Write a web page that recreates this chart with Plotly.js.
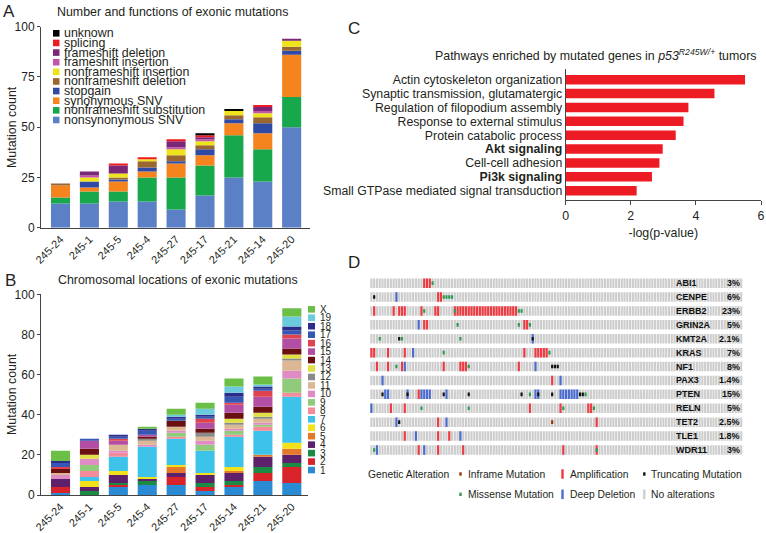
<!DOCTYPE html>
<html><head><meta charset="utf-8">
<script src="https://cdn.plot.ly/plotly-3.0.1.min.js"></script>
<style>html,body{margin:0;padding:0;background:#fff}#chart{width:766px;height:533px}</style>
</head><body><div id="chart"></div>
<script>
// ================= Panel A: functions of exonic mutations =================
const samplesA = ['245-24','245-1','245-5','245-4','245-27','245-17','245-21','245-14','245-20'];
const funcNames = ['nonsynonymous SNV','nonframeshift substitution','synonymous SNV','stopgain',
  'nonframeshift deletion','nonframeshift insertion','frameshift insertion','frameshift deletion','splicing','unknown'];
const nonsynonymousSNV        = [12,12,13,13, 9,16,25,23,50];
const nonframeshiftSubst      = [ 3, 6, 5,12,16,15,21,16,15];
const synonymousSNV           = [ 6, 2, 5, 3, 7, 5, 6, 8,21];
const stopgain                = [ 0, 3, 1, 2, 1, 3, 2, 5, 2];
const nonframeshiftDeletion   = [ 1, 0, 1, 3, 3, 2, 2, 3, 2];
const nonframeshiftInsertion  = [ 0, 2, 2, 1, 3, 2, 2, 2, 3];
const frameshiftInsertion     = [ 0, 1, 0, 0, 1, 1, 0, 1, 0];
const frameshiftDeletion      = [ 0, 2, 4, 0, 3, 1, 0, 2, 1];
const splicing                = [ 0, 0, 1, 1, 1, 1, 0, 1, 0];
const unknownFunc             = [ 0, 0, 0, 0, 0, 1, 1, 0, 0];

// ================= Panel B: chromosomal locations =================
const samplesB = ['245-24','245-1','245-5','245-4','245-27','245-17','245-14','245-21','245-20'];
const chromNames = ['1','2','3','4','5','6','7','8','9','10','11','12','13','14','15','16','17','18','19','X'];
const chr1  = [1,0,4,5,5,2,4,7,6];
const chr2  = [3,0,1,0,4,2,1,4,8];
const chr3  = [0,2,1,2,0,2,2,3,2];
const chr4  = [4,2,4,1,2,4,4,5,4];
const chr5  = [0,0,0,0,3,0,1,1,3];
const chr6  = [0,3,2,1,1,1,2,0,3];
const chr7  = [0,2,7,15,13,11,15,12,23];
const chr8  = [0,3,2,0,1,0,1,2,2];
const chr9  = [0,3,0,0,2,3,2,1,7];
const chr10 = [2,3,1,1,1,2,1,1,4];
const chr11 = [1,0,3,2,2,2,2,2,5];
const chr12 = [0,0,0,1,0,2,1,1,1];
const chr13 = [0,2,0,0,0,0,2,2,2];
const chr14 = [2,3,0,1,3,2,3,3,3];
const chr15 = [0,4,2,1,0,3,4,5,5];
const chr16 = [1,0,1,0,0,2,1,3,2];
const chr17 = [2,1,1,2,1,1,3,1,2];
const chr18 = [1,0,1,1,1,1,2,1,2];
const chr19 = [0,0,0,0,1,3,3,1,5];
const chrX  = [5,0,0,1,3,3,4,4,4];

// ================= Panel C: pathways =================
const pathways = ['Actin cytoskeleton organization','Synaptic transmission, glutamatergic',
  'Regulation of filopodium assembly','Response to external stimulus','Protein catabolic process',
  'Akt signaling','Cell-cell adhesion','Pi3k signaling','Small GTPase mediated signal transduction'];
const boldPathways = ['Akt signaling','Pi3k signaling'];
const negLogP = [5.51,4.57,3.77,3.62,3.38,2.98,2.88,2.65,2.18];

// ================= Panel D: oncoprint =================
const nSamplesD = 134;
const genes = ['ABI1','CENPE','ERBB2','GRIN2A','KMT2A','KRAS','NF1','PAX3','PTEN','RELN','TET2','TLE1','WDR11'];
const genePct = ['3%','6%','23%','5%','2.1%','7%','8%','1.4%','15%','5%','2.5%','1.8%','3%'];
const ampCols = [
  [19,20,21],
  [24,25],
  [1,8,10,11,12,18,23,24,30,31,32,33,34,35,36,37,38,39,40,41,42,43,44,45,46,47,48,49,50,51,52],
  [19,20,55,56],
  [],
  [0,1,6,12,55,59,60,61,62,63],
  [2,6,11,26,32,33,34,53],
  [65],
  [17],
  [7,12,57,68,78,79],
  [24,81],
  [12,24,28],
  [17,24,33,69,81]
];
const delCols = [
  [], [9], [], [17], [58], [15], [12,59], [4,68],
  [5,6,13,18,19,20,21,27,59,60,68,69,70,71,72,73,74],
  [0], [9,27], [16,32], [2,19]
];
const missenseCols = [
  [22], [26,27,28,29], [19,30,53,54], [31,53,57], [3,11,32], [26,64], [9,35], [],
  [57,77], [18,35,69,80], [], [], [1,81]
];
const truncCols = [
  [], [1], [], [], [10,58], [], [65,66,67], [],
  [4,13,26,35,54,60,65,75,76], [], [10], [], []
];
const inframeCols = [
  [], [], [], [], [], [], [], [], [], [], [65], [], []
];
const legendDItems = ['Inframe Mutation','Amplification','Truncating Mutation','Missense Mutation','Deep Deletion','No alterations'];

// ================= styles / helpers =================
const FONT = 'Arial, "Liberation Sans", sans-serif';
const TXT = '#231f20';
const W = 766, H = 533;
const px = x => x / W;
const py = y => 1 - y / H;
const funcColors = ['#5b80c6','#17a84b','#f5841f','#2f4aa5','#9b6730','#efe41c','#c257aa','#7a2777','#ed1c24','#000000'];
const chromColors = ['#2a8bd4','#d8232a','#1b8a43','#5e1f6b','#e6782a','#f2e21c','#3dc3ea','#f58a9b','#8fcb7b','#e08cc4',
  '#dcb793','#8a8a8a','#dfe043','#6b1010','#b24ea3','#e0434f','#3557b3','#2a2d8b','#6bcbdd','#6cbf46'];
const colAmp = '#ee3a40', colDel = '#4a6bd0', colMis = '#2e9a50', colTrunc = '#111111', colInf = '#993404', colBg = '#cdcdcd';

const traces = [];
const shapes = [];
const annotations = [];

// ---- A stacked bars
const funcSeries = [nonsynonymousSNV,nonframeshiftSubst,synonymousSNV,stopgain,nonframeshiftDeletion,
  nonframeshiftInsertion,frameshiftInsertion,frameshiftDeletion,splicing,unknownFunc];
let cumA = samplesA.map(() => 0);
funcSeries.forEach((vals, k) => {
  traces.push({type:'bar', x: samplesA, y: vals, base: cumA.slice(), xaxis:'x', yaxis:'y',
    width: 0.66, marker:{color: funcColors[k]}, name: funcNames[k], showlegend:false, hoverinfo:'skip'});
  cumA = cumA.map((c, i) => c + vals[i]);
});

// ---- B stacked bars
const chromSeries = [chr1,chr2,chr3,chr4,chr5,chr6,chr7,chr8,chr9,chr10,chr11,chr12,chr13,chr14,chr15,chr16,chr17,chr18,chr19,chrX];
let cumB = samplesB.map(() => 0);
chromSeries.forEach((vals, k) => {
  traces.push({type:'bar', x: samplesB, y: vals, base: cumB.slice(), xaxis:'x2', yaxis:'y2',
    width: 0.66, marker:{color: chromColors[k]}, name: chromNames[k], showlegend:false, hoverinfo:'skip'});
  cumB = cumB.map((c, i) => c + vals[i]);
});

// ---- C horizontal bars
const pathLabels = pathways.map(p => boldPathways.includes(p) ? '<b>' + p + '</b>' : p);
traces.push({type:'bar', orientation:'h', y: pathways, x: negLogP, xaxis:'x3', yaxis:'y3',
  width: 0.68, marker:{color:'#ed1c24'}, showlegend:false, hoverinfo:'skip'});

// ---- D oncoprint
const ROWH = 0.68, MUTH = 0.26;
const bgX = [], bgB = [], bgY = [];
genes.forEach((g, gi) => {
  for (let c = 0; c < nSamplesD; c++) { bgX.push(c); bgB.push(gi - ROWH/2); bgY.push(ROWH); }
});
traces.push({type:'bar', x: bgX, y: bgY, base: bgB, width: 0.78, xaxis:'x4', yaxis:'y4',
  marker:{color: colBg}, showlegend:false, hoverinfo:'skip'});
function alterTrace(cols, color, h) {
  const xs = [], bs = [], ys = [];
  cols.forEach((list, gi) => list.forEach(c => { xs.push(c); bs.push(gi - h/2); ys.push(h); }));
  traces.push({type:'bar', x: xs, y: ys, base: bs, width: 0.78, xaxis:'x4', yaxis:'y4',
    marker:{color: color}, showlegend:false, hoverinfo:'skip'});
}
alterTrace(ampCols, colAmp, ROWH);
alterTrace(delCols, colDel, ROWH);
alterTrace(missenseCols, colMis, MUTH);
alterTrace(truncCols, colTrunc, MUTH);
alterTrace(inframeCols, colInf, MUTH);
genes.forEach((g, gi) => {
  annotations.push({xref:'paper', yref:'y4', x: px(674), y: gi, text:'<b>'+g+'</b>', showarrow:false,
    xanchor:'left', yanchor:'middle', font:{size:9, color:'#111', family:FONT}});
  annotations.push({xref:'paper', yref:'y4', x: px(742), y: gi, text:'<b>'+genePct[gi]+'</b>', showarrow:false,
    xanchor:'right', yanchor:'middle', font:{size:9, color:'#111', family:FONT}});
});

// ---- Legend A (custom)
const revFunc = funcNames.map((n, i) => i).reverse();
revFunc.forEach((fi, k) => {
  const cy = 33.3 + k * 9.63;
  shapes.push({type:'rect', xref:'paper', yref:'paper', x0: px(53), x1: px(59.5), y0: py(cy+3.3), y1: py(cy-3.3),
    fillcolor: funcColors[fi], line:{width:0}});
  annotations.push({xref:'paper', yref:'paper', x: px(62), y: py(cy), text: funcNames[fi], showarrow:false,
    xanchor:'left', yanchor:'middle', font:{size:12.4, color:TXT, family:FONT}});
});
// ---- Legend B (custom)
const revChrom = chromNames.map((n, i) => i).reverse();
revChrom.forEach((ci, k) => {
  const cy = 309.3 + k * 8.46;
  shapes.push({type:'rect', xref:'paper', yref:'paper', x0: px(308), x1: px(315), y0: py(cy+3.3), y1: py(cy-3.3),
    fillcolor: chromColors[ci], line:{width:0}});
  annotations.push({xref:'paper', yref:'paper', x: px(318), y: py(cy), text: chromNames[ci], showarrow:false,
    xanchor:'left', yanchor:'middle', font:{size:10, color:TXT, family:FONT}});
});
// ---- Legend D (custom)
const legDSw = [
  {x:460.5, y:474, h:3.4, c:colInf}, {x:562.5, y:474, h:9.5, c:colAmp}, {x:644.3, y:474, h:3.4, c:colTrunc},
  {x:460.5, y:494.3, h:3.4, c:colMis}, {x:562.5, y:494.3, h:9.5, c:colDel}, {x:644.3, y:494.3, h:9.5, c:colBg}
];
legDSw.forEach((s, i) => {
  shapes.push({type:'rect', xref:'paper', yref:'paper', x0: px(s.x-1.2), x1: px(s.x+1.2), y0: py(s.y+s.h/2), y1: py(s.y-s.h/2),
    fillcolor: s.c, line:{width:0}});
  annotations.push({xref:'paper', yref:'paper', x: px(s.x+5), y: py(s.y), text: legendDItems[i], showarrow:false,
    xanchor:'left', yanchor:'middle', font:{size:10.3, color:TXT, family:FONT}});
});
annotations.push({xref:'paper', yref:'paper', x: px(366), y: py(474), text:'Genetic Alteration', showarrow:false,
  xanchor:'left', yanchor:'middle', font:{size:10.3, color:TXT, family:FONT}});

// ---- Titles & panel letters
const addText = (x, y, t, size, anchor, angle) => annotations.push({xref:'paper', yref:'paper', x: px(x), y: py(y), text: t,
  showarrow:false, xanchor: anchor || 'center', yanchor:'middle', textangle: angle || 0, font:{size:size, color:TXT, family:FONT}});
addText(172.5, 12, 'Number and functions of exonic mutations', 12.4);
addText(178, 280, 'Chromosomal locations of exonic mutations', 12.4);
addText(596, 55, 'Pathways enriched by mutated genes in <i>p53</i><sup><i>R245W/+</i></sup> tumors', 12.4);
addText(12, 127, 'Mutation count', 12.4, 'center', -90);
addText(12, 394, 'Mutation count', 12.4, 'center', -90);
addText(9, 12, 'A', 17);
addText(10, 280, 'B', 17);
addText(354, 28, 'C', 17);
addText(354, 263, 'D', 17);

const axLine = {showline:true, linecolor:'#444', linewidth:1, showgrid:false, zeroline:false};
const tickF = {size:12, color:TXT, family:FONT};
const layout = {
  width: W, height: H, margin:{l:0, r:0, t:0, b:0},
  paper_bgcolor:'#fff', plot_bgcolor:'rgba(0,0,0,0)',
  barmode:'overlay', showlegend:false,
  font:{family:FONT, color:TXT},
  xaxis: Object.assign({}, axLine, {domain:[px(41), px(310)], anchor:'y', type:'category', range:[-0.675, 8.635],
    ticks:'', tickangle:-45, tickfont:{size:11, color:TXT, family:FONT}}),
  yaxis: Object.assign({}, axLine, {domain:[py(227.7), py(26.7)], anchor:'x', range:[0,100], tickvals:[0,25,50,75,100],
    ticks:'outside', ticklen:3, tickcolor:'#444', tickfont:tickF}),
  xaxis2: Object.assign({}, axLine, {domain:[px(41), px(308)], anchor:'y2', type:'category', range:[-0.675, 8.56],
    ticks:'', tickangle:-45, tickfont:{size:11, color:TXT, family:FONT}}),
  yaxis2: Object.assign({}, axLine, {domain:[py(495), py(294.3)], anchor:'x2', range:[0,100], tickvals:[0,20,40,60,80,100],
    ticks:'outside', ticklen:3, tickcolor:'#444', tickfont:tickF}),
  xaxis3: Object.assign({}, axLine, {domain:[px(565.7), px(761)], anchor:'y3', range:[0,6], tickvals:[0,2,4,6],
    ticks:'outside', ticklen:4, tickcolor:'#444', tickfont:{size:12.4, color:TXT, family:FONT},
    title:{text:'-log(p-value)', font:{size:12.4, color:TXT, family:FONT}, standoff:6}}),
  yaxis3: Object.assign({}, axLine, {domain:[py(200), py(69.3)], anchor:'x3', type:'category', range:[8.67, -0.75],
    tickmode:'array', tickvals: pathways, ticktext: pathLabels,
    ticks:'', tickfont:{size:12.3, color:TXT, family:FONT}}),
  xaxis4: {domain:[px(370), px(742.7)], anchor:'y4', range:[-0.5, nSamplesD-0.5], visible:false, showgrid:false, zeroline:false},
  yaxis4: {domain:[py(456.9), py(276.2)], anchor:'x4', range:[genes.length-0.5, -0.5], visible:false, showgrid:false, zeroline:false},
  shapes: shapes,
  annotations: annotations
};
Plotly.newPlot('chart', traces, layout, {displayModeBar:false, staticPlot:true});
</script>
</body></html>
